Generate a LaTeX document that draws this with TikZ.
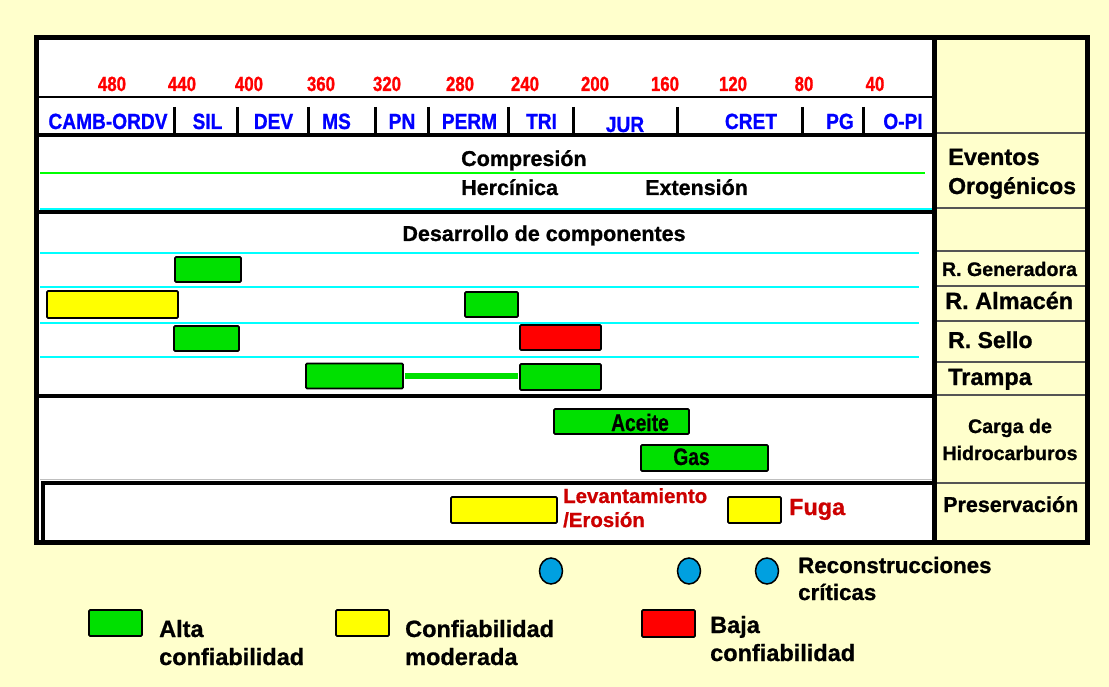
\documentclass[tikz,border=0pt]{standalone}
\usepackage{fontspec}
\usetikzlibrary{shapes.geometric}
\setmainfont{Liberation Sans}[BoldFeatures={FakeBold=0.9}]
\newfontfamily\numfont{Liberation Sans}[FakeStretch=0.82,BoldFeatures={FakeBold=0.9}]
\newfontfamily\perfont{Liberation Sans}[FakeStretch=0.87,BoldFeatures={FakeBold=0.9}]
\newfontfamily\barfont{Liberation Sans}[FakeStretch=0.8,BoldFeatures={FakeBold=0.5}]
\definecolor{bgyel}{HTML}{FFFFCC}
\definecolor{bargreen}{HTML}{00E000}
\definecolor{baryel}{HTML}{FFFF00}
\definecolor{barred}{HTML}{FF0000}
\definecolor{numred}{HTML}{FF0000}
\definecolor{darkred}{HTML}{CC0000}
\definecolor{perblue}{HTML}{0000FF}
\definecolor{cyanline}{HTML}{00FFFF}
\definecolor{greenline}{HTML}{00FF00}
\definecolor{ellblue}{HTML}{00A0E0}
\definecolor{sepgray}{HTML}{555555}
\begin{document}
\begin{tikzpicture}[x=1pt,y=-1pt,
  num/.style={text=numred, font={\numfont\bfseries\fontsize{20.5}{20.5}\selectfont}, anchor=base, inner sep=0},
  per/.style={text=perblue, font={\perfont\bfseries\fontsize{22}{22}\selectfont}, anchor=base, inner sep=0},
  lbl/.style={font={\bfseries\fontsize{21.5}{21.5}\selectfont}, anchor=base west, inner sep=0},
  rlbl/.style={font={\bfseries\fontsize{23.5}{23.5}\selectfont}, anchor=base west, inner sep=0},
  slbl/.style={font={\bfseries\fontsize{19.6}{19.6}\selectfont}, anchor=base, inner sep=0},
  leg/.style={font={\bfseries\fontsize{23.5}{23.5}\selectfont}, anchor=base west, inner sep=0},
  redlbl/.style={text=darkred, font={\bfseries\fontsize{20.4}{20.4}\selectfont}, anchor=base west, inner sep=0},
  bartxt/.style={font={\barfont\bfseries\fontsize{24}{24}\selectfont}, anchor=base, inner sep=0},
  bar/.style={draw=black, line width=1.8, rounded corners=1.2, inner sep=0},
  gbar/.style={bar, fill=bargreen},
  ybar/.style={bar, fill=baryel},
  rbar/.style={bar, fill=barred},
  thick sep/.style={line width=4},
  cline/.style={cyanline, line width=2},
  rsep/.style={sepgray, line width=1.2},
  recon/.style={ellipse, draw=black, fill=ellblue, line width=1.5, minimum width=23, minimum height=26, inner sep=0}
]
\useasboundingbox (0,0) rectangle (1109,687);
\fill[bgyel] (0,0) rectangle (1109,687);
% panels
\fill[white] (37,38) rectangle (934,542);
\fill[bgyel] (934,38) rectangle (1087,542);

% right column separators
\foreach \yy in {133,208,251,286,321,362,395,483}
  \draw[rsep] (934,\yy) -- (1087,\yy);

% time scale
\draw[line width=2.5] (37,97) -- (934,97);
\foreach \xx in {174,237,308,375,428,508,573,677,802,863}
  \draw[line width=3] (\xx,107) -- (\xx,133);
\draw[thick sep] (37,135.5) -- (934,135.5);

\node[num] (n480) at (112,91) {480};
\node[num] (n440) at (182,91) {440};
\node[num] (n400) at (249,91) {400};
\node[num] (n360) at (321,91) {360};
\node[num] (n320) at (387,91) {320};
\node[num] (n280) at (460,91) {280};
\node[num] (n240) at (525,91) {240};
\node[num] (n200) at (595,91) {200};
\node[num] (n160) at (665,91) {160};
\node[num] (n120) at (733,91) {120};
\node[num] (n80) at (804,91) {80};
\node[num] (n40) at (875,91) {40};

\node[per] (pcamb) at (108,129) {CAMB-ORDV};
\node[per] (psil) at (207.5,129) {SIL};
\node[per] (pdev) at (273.5,129) {DEV};
\node[per] (pms) at (336.5,129) {MS};
\node[per] (ppn) at (402,129) {PN};
\node[per] (pperm) at (469.5,129) {PERM};
\node[per] (ptri) at (541.5,129) {TRI};
\node[per] (pjur) at (625,132) {JUR};
\node[per] (pcret) at (751,129) {CRET};
\node[per] (ppg) at (840,129) {PG};
\node[per] (popi) at (903,129) {O-PI};

% orogenic events
\draw[greenline, line width=2] (40,173) -- (925,173);
\draw[cyanline, line width=1.5] (40,209) -- (932,209);
\draw[thick sep] (37,212) -- (934,212);
\node[lbl] (comp) at (461,166) {Compresión};
\node[lbl] (herc) at (461,195) {Hercínica};
\node[lbl] (ext) at (645,195) {Extensión};

% components
\node[lbl, anchor=base] (desa) at (544,241) {Desarrollo de componentes};
\foreach \yy in {253,287,323,357}
  \draw[cline] (40,\yy) -- (919,\yy);
\draw[thick sep] (37,395.5) -- (934,395.5);
\draw[gray!50, line width=1] (40,479) -- (932,479);

\node[gbar, minimum width=66, minimum height=25] (gen) at (208,269.5) {};
\node[ybar, minimum width=131, minimum height=27] (almY) at (112.5,304.5) {};
\node[gbar, minimum width=53, minimum height=25] (almG) at (491.5,304.5) {};
\node[gbar, minimum width=65, minimum height=25] (selG) at (206.5,338.5) {};
\node[rbar, minimum width=81, minimum height=25] (selR) at (560.5,337.5) {};
\node[gbar, minimum width=97, minimum height=25] (tr1) at (354.5,376) {};
\node[gbar, minimum width=81, minimum height=26] (tr2) at (560.5,377) {};
\draw[bargreen, line width=6, shorten <=1, shorten >=1] (tr1.east) -- (tr2.west |- tr1.east);

% charge
\node[gbar, minimum width=135, minimum height=25] (oil) at (621.5,421.5) {};
\node[gbar, minimum width=127, minimum height=26] (gas) at (704.5,458) {};
\node[bartxt] (oiltxt) at (640,431) {Aceite};
\node[bartxt] (gastxt) at (691.5,465) {Gas};

% preservation
\draw[line width=3.5] (43,542) -- (43,483) -- (934,483);
\node[ybar, minimum width=106, minimum height=26] (lev) at (504,510) {};
\node[ybar, minimum width=53, minimum height=26] (fuga) at (754.5,510) {};
\node[redlbl] (levtxt1) at (563,503) {Levantamiento};
\node[redlbl] (levtxt2) at (563,527) {/Erosión};
\node[redlbl, font={\bfseries\fontsize{23.4}{23.4}\selectfont}] (fugatxt) at (789,515) {Fuga};

% right column labels
\node[rlbl] (ev1) at (948,165) {Eventos};
\node[rlbl, font={\bfseries\fontsize{23}{23}\selectfont}] (ev2) at (948,194) {Orogénicos};
\node[slbl] (rgen) at (1009.5,276) {R. Generadora};
\node[rlbl] (ralm) at (945,309) {R. Almacén};
\node[rlbl, font={\bfseries\fontsize{23}{23}\selectfont}] (rsel) at (948,348) {R. Sello};
\node[rlbl] (rtra) at (948,385) {Trampa};
\node[slbl] (carga1) at (1010,433) {Carga de};
\node[slbl] (carga2) at (1010,460) {Hidrocarburos};
\node[rlbl, font={\bfseries\fontsize{21.5}{21.5}\selectfont}] (pres) at (943,512) {Preservación};

% borders
\draw[line width=5] (934,38) -- (934,542);
\draw[line width=5] (36.5,38) rectangle (1087.5,542.5);

% legend
\node[recon] (rc1) at (551,571) {};
\node[recon] (rc2) at (689,571) {};
\node[recon] (rc3) at (767,571) {};
\node[leg, font={\bfseries\fontsize{22.3}{22.3}\selectfont}] (rctxt1) at (798,573) {Reconstrucciones};
\node[leg, font={\bfseries\fontsize{22.3}{22.3}\selectfont}] (rctxt2) at (798,600) {críticas};

\node[gbar, minimum width=53, minimum height=26] (lg) at (115.5,623) {};
\node[leg] (lgt1) at (159,637) {Alta};
\node[leg] (lgt2) at (159,665) {confiabilidad};
\node[ybar, minimum width=53, minimum height=26] (ly) at (362.5,623) {};
\node[leg] (lyt1) at (405,637) {Confiabilidad};
\node[leg] (lyt2) at (405,665) {moderada};
\node[rbar, minimum width=53, minimum height=27] (lr) at (668.5,623.5) {};
\node[leg] (lrt1) at (710,633) {Baja};
\node[leg] (lrt2) at (710,661) {confiabilidad};
\end{tikzpicture}
\end{document}
